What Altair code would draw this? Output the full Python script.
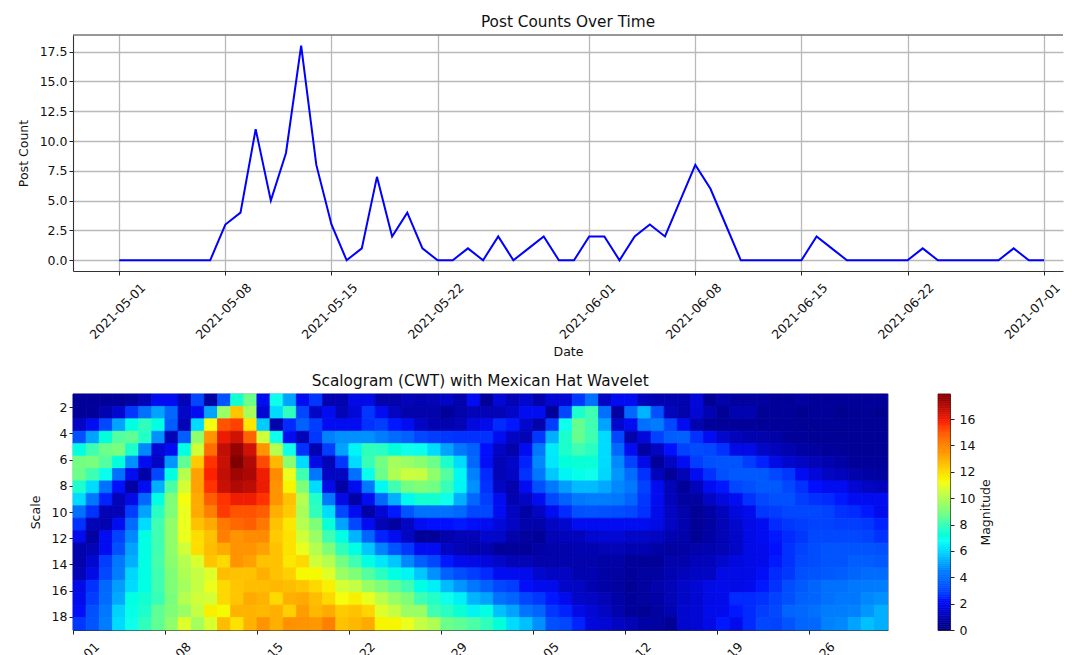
import altair as alt
import pandas as pd

POST_COUNTS = [0,0,0,0,0,0,0,3,4,11,5,9,18,8,3,0,1,7,2,4,1,0,0,1,0,2,0,1,2,0,0,
               2,2,0,2,3,2,5,8,6,3,0,0,0,0,0,2,1,0,0,0,0,0,1,0,0,0,0,0,1,0,0]

LEFT = [
[.5,.5,.5,.5,.6,1,2,2,1,3,.6,3.3,7.4,8.7,2,6.8,5,2,2.7,.9,.9],
[.5,.5,.9,1.4,2.7,4,5,3.8,1.3,2,5,9.5,12.4,9.7,1.5,6,7.8,3,1.3,2,1],
[1.2,2,3,5,7,7.8,7,3.5,1,6,11.2,15,15.3,11.7,5.7,.8,2.5,3.6,2.8,2,2],
[3.2,5,7.2,8.3,8.5,7.6,4.7,1,3.5,9.3,13.5,16,16.5,14.7,10.5,6.8,2,1,2.7,4.5,4.7],
[7,8,8.7,8.9,7.5,4.6,1.5,2,7,10.5,14.5,16.7,17.5,16.5,13.5,10,6.8,2.6,.9,2.8,5],
[8.8,8.9,8.3,7.2,4.7,2,1.2,4.8,8.5,12.3,15.5,16.6,17.9,17,15.2,12.7,9.2,6,1.8,1,2.7],
[8.7,8,6.7,4,2,.7,3,7,10,13.2,15.7,16.7,17.3,17.1,15.9,13.7,11,8,4.2,1.2,1.2],
[7.5,6,4,2.2,.6,2,5.2,8.2,10.6,13.2,15.5,16.6,17,16.8,16,13.5,11.4,9,6,1.8,.7],
[6,4.2,2.4,1,1.8,3.8,7,9,11.2,13,14.8,15.5,15.9,15.9,15.5,13.5,12.5,10,7.6,4.2,1.8],
[4,2.6,1,1,2.8,5,7.7,9,11,13,14,15.4,15,15,14.8,12.9,12.3,9.8,7.8,6,3],
[2.6,1,.9,2,3.9,6,8,9.3,11,12.5,13,14.2,14.6,14.8,14.2,12.5,11.7,10,9,7.3,5],
[1.9,.6,2,2.9,4.6,7,8,9.3,11,11.9,12.5,14,13.5,13.7,13.7,12.3,11.8,10.5,9.5,8,7],
[.8,1,2,3.2,5,7,8,9.3,10.5,11.9,12.6,13,13.5,13.5,13.2,12.5,11.8,11,10,9,7.8],
[.8,1.4,2.8,4.2,5.2,7,8.1,9.2,10,10.7,12.4,12,13.5,13.2,12.5,12.5,11.7,12,10.5,10,8.8],
[1,1.8,3,4.4,5.9,7,8,9,9.9,10.3,10.8,12.6,12.5,12.5,12.9,12.5,12.2,11.3,11.3,10.8,9.5],
[1.8,2.6,3.8,4.9,6,7,8,9,9.7,10.3,11,12,12.4,12.6,12.6,12.7,12.6,12.4,12,11.5,10.6],
[1.9,2.8,3.9,5.1,7,7.4,7.9,8.9,10,10.5,10.6,12,12.4,13,12.8,12,12.9,13,12.6,12,11.2],
[2.1,3.2,4.2,5.8,6.9,7.5,8.5,9,9.5,10.3,11.5,11.3,12.8,12.8,12.7,12.9,12.2,13.3,12.7,13,12.3],
[2.7,3.3,4.4,6,6.8,7.8,8.5,9.3,10.8,9.7,10.7,12.6,11.8,12.8,13.5,12.9,13.6,13.5,13.4,14,12.5],
]
MIDDLE = [
[1.8,1.8,.8,.8,1,.9,1,1.2,.8,2,.5,1.5,1,1.4,.8,1.5,1.5,2.7,4,1.2,2],
[1.6,2.7,2,1.2,.8,.8,.8,.5,.8,1,1,1,1.3,2,2,.5,3,7.5,8,4,.6],
[2,2.6,2.8,2.3,2,1.2,.9,.9,1,1.7,1.9,2.5,2.3,1.4,.8,2.8,6.8,8.6,8,5,1.4],
[4.7,4.7,4.4,3.9,3.6,3,2.8,2.7,2.6,2.6,2.6,2,1.2,1,2.7,5.2,7.5,8.6,8,6,3],
[6.5,7.8,7.7,7.2,6.8,6.7,6,5,4.2,3.6,2.2,1.2,.8,2,4.2,6.3,7.5,8,7.7,6,3.8],
[6,7.9,8.8,9.7,9.5,9.2,8.7,7.5,6,3.8,2.1,1,1.3,2.4,4.6,6.2,7.2,7.3,7.3,6,4.6],
[4,6.7,8.7,9.9,10.4,10.3,9.3,8.3,6.6,4.5,2.5,1,1.2,2.6,4.2,5.6,6.5,6.9,6.8,5.9,4.8],
[2,4.2,6.6,8,8.8,9,8.8,7.9,6.5,4.7,2.6,1.2,.8,2,3.2,4.2,4.9,5.4,5.4,5.1,4.6],
[.7,2,3.8,5.2,6.6,7.4,7.4,6.8,5.2,3.8,2.8,2,.9,1.2,2,3,3.6,4.2,4.4,4.4,4.2],
[2,.7,1.5,2.3,3.3,4,4,4,3.8,3,3,2,1.2,.7,1.2,2,2.5,3.2,3.3,3.2,3.1],
[3,2,1,.6,1.2,2,2.2,2.2,2.3,2.1,2,1.6,1.2,.8,.8,1.2,1.4,2,2,2,2],
[5.3,3.7,2.4,2,1.2,.5,.5,.8,1,1,1.4,1.3,.8,.6,.5,1,1.1,1.1,1.4,1.5,1.5],
[7,5.6,4.5,3.3,2.7,2,2,1.2,1,.8,.9,.5,.5,.5,.7,.8,.8,.9,.9,1,1],
[8,7,6.2,5.6,4.6,3.5,3,2.3,1.9,1.8,1.6,1.3,1,1,.8,.8,.8,.8,.8,.7,.7],
[9,8.3,7.7,7,6.5,5.6,4.7,3.6,3.1,2.8,2.5,2,2,1.9,1.4,1.2,1.2,.9,.9,.7,.6],
[10.3,9.5,9,8.5,8,7,6.4,5.4,4.8,4.2,3.6,3,2.8,2.1,1.9,1.9,1.3,1.2,.9,.7,.6],
[11.5,11,10.2,9.5,9,8,7.6,6.8,6.4,5.3,5,4,3.7,3,2.7,2.3,1.9,1.3,1.2,1,.7],
[12.5,12.1,10.8,10.3,9.5,9.5,8,7.7,7.3,6.5,7,5.5,5,4.1,3.7,2.7,2.4,1.8,1.5,1.2,.8],
[12.7,13,11.4,11.4,11,10.3,9.9,8.7,8.5,8.2,7.8,7.2,6,5.5,4.7,3.2,3,2.4,1.6,1.5,1.2],
]
RIGHT = [
[2,1.1,.9,.9,.9,1.6,.4,.8,.6,.6,.6,.5,.5,.6,.5,.5,.5,.5,.5,.5],
[3.8,5.3,3.2,1.1,.8,1.5,.9,.4,.9,.9,.4,.5,.5,.3,.5,.5,.3,.4,.4,.3],
[2,4,4.4,3,2,.9,.5,.5,.5,.5,.5,.5,.5,.4,.4,.4,.4,.4,.4,.4],
[.8,1.6,2.9,3.5,3.6,2.6,2,1.4,1.1,.9,.8,.7,.5,.5,.4,.4,.4,.4,.4,.4],
[2,.6,1.2,2.2,2.9,3.1,3,2.6,1.8,1.8,1.3,1.1,.9,.7,.6,.5,.5,.4,.4,.4],
[2.9,1.8,.5,1.2,2,2.8,3.2,3.3,3.3,2.8,2.4,1.8,1.4,1.2,1,.9,.7,.5,.5,.5],
[3.9,2.6,1.1,.5,1,2,2.6,3.2,3.4,3.4,3.4,3,2.7,2,1.6,1.2,1.1,.8,.7,.6],
[4.2,2.9,2,1,.5,1.1,2,2.3,3,3.2,3.4,3.4,3,2.6,2.2,2,2,1.5,1.2,1.1],
[3.7,2.7,2,1.1,.6,.6,1.2,1.7,2,2.6,3,3.2,3.2,2.8,2.6,2.5,2.3,2,2,2],
[3,2.6,1.9,1.2,.8,.4,.7,1.1,1.7,1.9,2.7,2.8,3,3,3,2.9,2.6,2.5,2.3,1.9],
[2,2,1.8,1.2,.9,.4,.6,1,1.4,1.8,2,2.5,2.7,2.8,2.9,2.9,2.8,2.8,2.7,2.4],
[1.3,1.3,1.2,.9,.8,.4,.7,1,1.3,1.8,2,2.3,2.5,2.7,3,3,3,3,2.9,2.6],
[.9,.9,.7,.6,.7,.8,.9,1,1.3,1.8,1.9,2.2,2.6,2.9,3.1,3.3,3.3,3.3,3.3,3.2],
[.5,.5,.5,.8,.8,1.1,1.1,1.4,1.7,1.8,1.9,2.3,2.6,3,3.1,3.3,3.3,3.5,3.5,3.4],
[.5,.6,.6,.9,1.1,1.2,1.2,1.8,1.8,1.8,2.1,2.5,2.7,3.2,3.3,3.4,3.5,3.7,3.9,3.9],
[.4,.6,.8,1,1.3,1.5,1.8,1.9,1.8,1.9,2.3,2.6,3.1,3.4,3.7,4,4,4.2,4.3,4.4],
[.5,.6,.7,1,1.3,1.5,1.8,1.9,2.5,2.5,2.6,2.9,3.2,3.6,3.7,4,4.2,4.2,4.6,4.7],
[.5,.4,.6,.9,1.4,1.5,1.9,1.9,2.3,2.5,2.8,3,3.7,3.8,4,4.4,4.4,4.5,4.8,5.2],
[1,.7,.6,.4,1.4,1.5,1.8,2.3,1.9,2.5,3,2.9,3.3,3.7,3.8,4.5,4.6,5,5.5,5.2],
]
JET = ["#00007f","#000fff","#0080ff","#15ffee","#7cff7a","#f4ff0f","#ff9600","#ff2200","#7f0000"]
VMAX = 17.9
TOP_TICKS = ["2021-05-01","2021-05-08","2021-05-15","2021-05-22","2021-06-01","2021-06-08","2021-06-15","2021-06-22","2021-07-01"]
HEAT_TICKS = ["2021-05-01","2021-05-08","2021-05-15","2021-05-22","2021-05-29","2021-06-05","2021-06-12","2021-06-19","2021-06-26"]

FONT = "DejaVu Sans"
def ms(s):
    return int(pd.Timestamp(s, tz="UTC").value // 10**6)

days = pd.date_range("2021-05-01", periods=63, freq="D", tz="UTC")
iso = [d.strftime("%Y-%m-%dT00:00:00Z") for d in days]

line_df = pd.DataFrame({"date": iso[:62], "count": POST_COUNTS})
rows = []
N_ROWS = len(LEFT)
assert N_ROWS == 19
for r in range(N_ROWS):
    vals = LEFT[r] + MIDDLE[r] + RIGHT[r]
    assert len(vals) == 62, (r, len(LEFT[r]), len(MIDDLE[r]), len(RIGHT[r]))
    for k, v in enumerate(vals):
        rows.append({"d": iso[k], "d2": iso[k+1],
                     "s": 1 + r*18/N_ROWS, "s2": 1 + (r+1)*18/N_ROWS, "v": v})
heat_df = pd.DataFrame(rows)

stops = [VMAX*i/8 for i in range(9)]
jet = alt.Scale(domain=stops, range=JET, clamp=True)

DATE_LABEL = "utcFormat(datum.value, '%Y-%m-%d')"
def date_axis(ticks, title_padding=0, grid=False, last_offset=-2):
    return alt.Axis(values=[ms(t) for t in ticks], labelExpr=DATE_LABEL,
                    labelAngle=315, labelAlign="center", labelBaseline="middle",
                    labelPadding=36,
                    labelOffset={"condition": {"test": f"time(datum.value) == {ms(ticks[-1])}", "value": last_offset}, "value": -2},
                    labelOverlap=False, labelBound=False, labelFlush=False,
                    grid=grid, titlePadding=title_padding)

TOP_W = 990
line = alt.Chart(line_df).mark_line(color="#0000ff", strokeWidth=2, clip=True).encode(
    x=alt.X("date:T", title="Date", axis=date_axis(TOP_TICKS, title_padding=4, grid=True, last_offset=-12),
            scale=alt.Scale(type="utc", domain=[ms("2021-04-27T22:48:00"), ms("2021-07-02T06:06:00")])),
    y=alt.Y("count:Q", title="Post Count",
            scale=alt.Scale(domain=[-0.9, 18.9], nice=False, zero=False),
            axis=alt.Axis(values=[0,2.5,5,7.5,10,12.5,15,17.5], format=".1f", grid=True, titlePadding=9)),
)
top_edge = alt.Chart(line_df.head(1)).mark_rule(color="#333333", strokeWidth=1.1).encode(
    x=alt.value(0), x2=alt.value(TOP_W), y=alt.value(0))
top = alt.layer(line, top_edge).properties(width=TOP_W, height=236, title="Post Counts Over Time",
                                           view=alt.ViewBackground(stroke=None))

heat = alt.Chart(heat_df).mark_rect(strokeWidth=0.8).encode(
    x=alt.X("d:T", title=None, axis=date_axis(HEAT_TICKS),
            scale=alt.Scale(type="utc", domain=[ms("2021-05-01"), ms("2021-07-02")])),
    x2="d2:T",
    y=alt.Y("s:Q", title="Scale",
            scale=alt.Scale(domain=[1, 19], reverse=True, nice=False, zero=False),
            axis=alt.Axis(values=list(range(2, 19, 2)), grid=False, titlePadding=9)),
    y2="s2:Q",
    color=alt.Color("v:Q", scale=jet, legend=None),
    stroke=alt.Stroke("v:Q", scale=jet, legend=None),
).properties(width=814.5, height=236, title="Scalogram (CWT) with Mexican Hat Wavelet",
             view=alt.ViewBackground(stroke="#333333", strokeWidth=1.1))

BAR_STEPS = 128
bar_df = pd.DataFrame({"lo": [VMAX*i/BAR_STEPS for i in range(BAR_STEPS)],
                       "hi": [VMAX*(i+1)/BAR_STEPS for i in range(BAR_STEPS)]})
bar = alt.Chart(bar_df).mark_rect(strokeWidth=0.6).encode(
    x=alt.value(0), x2=alt.value(12),
    y=alt.Y("lo:Q", title="Magnitude",
            scale=alt.Scale(domain=[0, VMAX], nice=False, zero=False),
            axis=alt.Axis(orient="right", values=list(range(0, 17, 2)), grid=False,
                          titleAngle=270, titleBaseline="top", titlePadding=5, labelPadding=5)),
    y2="hi:Q",
    color=alt.Color("lo:Q", scale=jet, legend=None),
    stroke=alt.Stroke("lo:Q", scale=jet, legend=None),
).properties(width=12, height=236, view=alt.ViewBackground(stroke="#333333", strokeWidth=1.1))

bottom = alt.hconcat(heat, bar, spacing=48).resolve_scale(color="independent", stroke="independent", y="independent", x="independent")
chart = alt.vconcat(top, bottom, spacing=15).properties(
    padding={"left": 9, "top": 7, "right": 0, "bottom": 0}
).configure_view(stroke=None).configure_axis(
    labelFont=FONT, titleFont=FONT, labelFontSize=12.5, titleFontSize=12.5,
    labelColor="#111111", titleColor="#111111", titleFontWeight="normal",
    tickColor="#222222", tickSize=4, tickWidth=1, domainColor="#333333", domainWidth=1.1,
    gridColor="#b9b9b9", gridWidth=1.3, gridOpacity=1,
).configure_title(font=FONT, fontSize=15.3, fontWeight="normal", color="#111111", anchor="middle", offset=4)

chart.save("out.html", embed_options={"renderer": "svg", "actions": False})
